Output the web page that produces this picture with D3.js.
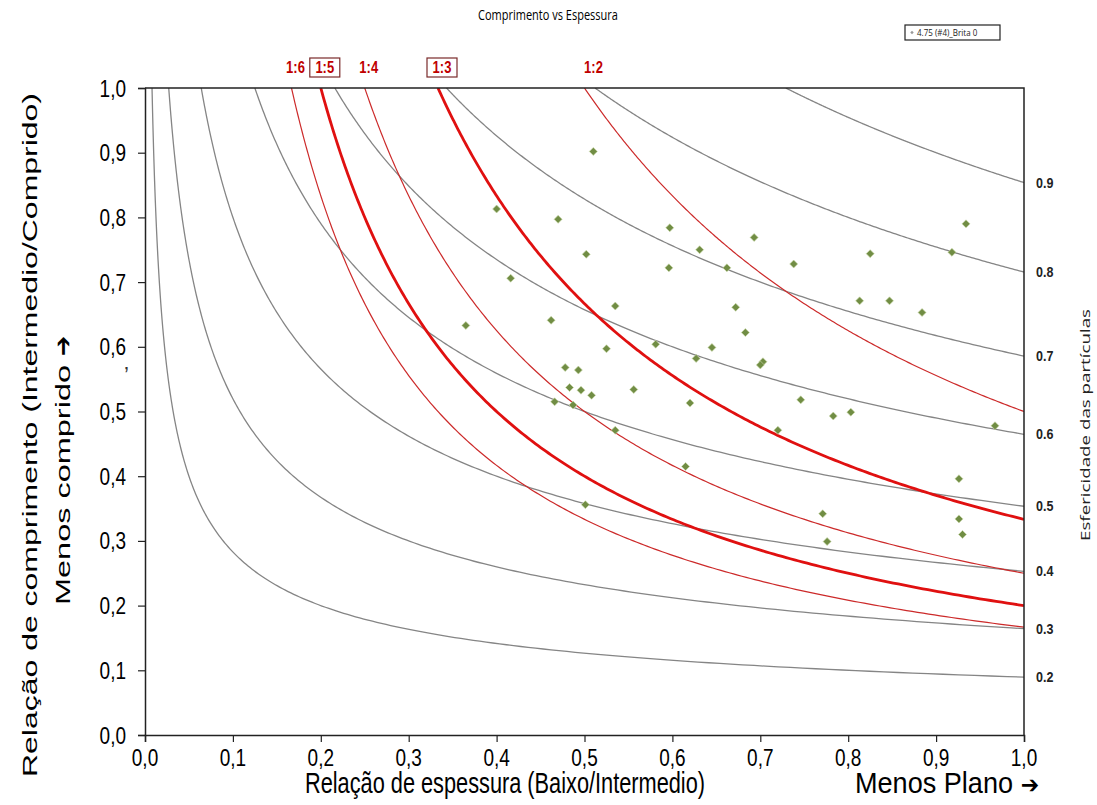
<!DOCTYPE html>
<html>
<head>
<meta charset="utf-8">
<script src="https://cdn.jsdelivr.net/npm/d3@7"></script>
<style>
  body { margin: 0; background: #fff; }
  svg { display: block; }
</style>
</head>
<body>
<svg id="chart" width="1097" height="805"></svg>
<script>
// Zingg diagram data
const xTicks = [0, 0.1, 0.2, 0.3, 0.4, 0.5, 0.6, 0.7, 0.8, 0.9, 1.0];
const yTicks = [0, 0.1, 0.2, 0.3, 0.4, 0.5, 0.6, 0.7, 0.8, 0.9, 1.0];

// sphericity contours (Krumbein), labels on the right
const sphericity = [0.2, 0.3, 0.4, 0.5, 0.6, 0.7, 0.8, 0.9];
const sphericityLabels = ["0.2", "0.3", "0.4", "0.5", "0.6", "0.7", "0.8", "0.9"];

// shape ratio lines (S/L)
const ratioValues = [1 / 2, 1 / 3, 1 / 4, 1 / 5, 1 / 6];
const ratioLabels = ["1:2", "1:3", "1:4", "1:5", "1:6"];

// measured particles, thickness ratio (S/I) and length ratio (I/L)
const sampleX = [0.510, 0.400, 0.470, 0.416, 0.502, 0.597, 0.596, 0.631, 0.693, 0.662,
  0.738, 0.535, 0.672, 0.365, 0.462, 0.683, 0.581, 0.525, 0.645, 0.627,
  0.478, 0.493, 0.703, 0.700, 0.483, 0.496, 0.508, 0.556, 0.466, 0.487,
  0.620, 0.535, 0.746, 0.783, 0.803, 0.720, 0.615, 0.501, 0.771, 0.776,
  0.926, 0.926, 0.930, 0.967, 0.813, 0.847, 0.825, 0.884, 0.918, 0.934];
const sampleY = [0.902, 0.813, 0.797, 0.706, 0.743, 0.784, 0.722, 0.750, 0.769, 0.722,
  0.728, 0.663, 0.661, 0.633, 0.641, 0.622, 0.604, 0.597, 0.599, 0.582,
  0.568, 0.564, 0.577, 0.572, 0.537, 0.533, 0.525, 0.534, 0.515, 0.510,
  0.513, 0.471, 0.518, 0.493, 0.499, 0.471, 0.415, 0.356, 0.342, 0.299,
  0.396, 0.334, 0.310, 0.478, 0.671, 0.671, 0.744, 0.653, 0.746, 0.790];

const seriesName = "4.75 (#4)_Brita 0";

const svg = d3.select("#chart");
const margin = { top: 88, right: 73, bottom: 70, left: 145 };
const width = 1097, height = 805;
const innerWidth = width - margin.left - margin.right;
const innerHeight = height - margin.top - margin.bottom;
const SY = 1.3; // the original picture is stretched vertically
const ARIAL = "'Liberation Sans', Arial, sans-serif";

// scales in page pixels, so every text can sit directly in the svg
const x = d3.scaleLinear().domain([0, 1]).range([margin.left, margin.left + innerWidth]);
const y = d3.scaleLinear().domain([0, 1]).range([margin.top + innerHeight, margin.top]);
const comma = (d) => d3.format(".1f")(d).replace(".", ",");

svg.append("defs").append("clipPath").attr("id", "plot")
  .append("rect").attr("x", margin.left).attr("y", margin.top)
  .attr("width", innerWidth).attr("height", innerHeight);

// text with taller glyphs: draw at size, then enlarge and squeeze back to that width
function label(px, py, str, size, opts = {}) {
  const t = svg.append("text")
    .attr("x", px).attr("y", py)
    .attr("text-anchor", opts.anchor || "start")
    .attr("font-family", opts.family || ARIAL)
    .attr("font-size", size)
    .attr("font-weight", opts.weight || "normal")
    .attr("fill", opts.fill || "#000")
    .text(str);
  const w = opts.length || t.node().getComputedTextLength();
  t.attr("font-size", size * (opts.sy || SY))
    .attr("textLength", w).attr("lengthAdjust", "spacingAndGlyphs");
  return t;
}

// curves, sampled on a log spaced x grid
const steps = d3.range(0, 1.0001, 0.004);
const line = d3.line().x((d) => x(d[0])).y((d) => y(d[1]));
const curves = svg.append("g").attr("clip-path", "url(#plot)");

sphericity.forEach((s) => {
  const x0 = Math.pow(s, 3);
  const pts = steps.map((t) => {
    const xv = x0 * Math.pow(1 / x0, t);
    return [xv, Math.sqrt(Math.pow(s, 3) / xv)];
  });
  curves.append("path").attr("d", line(pts))
    .attr("fill", "none").attr("stroke", "#858585").attr("stroke-width", 1.3);
});

const thickRatios = ["1:3", "1:5"];
ratioValues.forEach((r, i) => {
  const pts = steps.map((t) => {
    const xv = r * Math.pow(1 / r, t);
    return [xv, r / xv];
  });
  const thick = thickRatios.includes(ratioLabels[i]);
  curves.append("path").attr("d", line(pts))
    .attr("fill", "none")
    .attr("stroke", thick ? "#e01010" : "#cc2a2a")
    .attr("stroke-width", thick ? 2.8 : 1.2);
});

// plot frame (top and right)
svg.append("path")
  .attr("d", `M${margin.left},${margin.top}H${margin.left + innerWidth}V${margin.top + innerHeight}`)
  .attr("fill", "none").attr("stroke", "#222").attr("stroke-width", 1.5);

// axes: lines and ticks from d3, labels drawn below
const yAxis = svg.append("g").attr("transform", `translate(${margin.left},0)`)
  .call(d3.axisLeft(y).tickValues(yTicks).tickSize(7).tickFormat(""));
const xAxis = svg.append("g").attr("transform", `translate(0,${margin.top + innerHeight})`)
  .call(d3.axisBottom(x).tickValues(xTicks).tickSize(7).tickFormat(""));
[yAxis, xAxis].forEach((a) => {
  a.selectAll("text").remove();
  a.select(".domain").attr("stroke", "#222").attr("stroke-width", 1.5);
  a.selectAll(".tick line").attr("stroke", "#222").attr("stroke-width", 1.2);
});
yTicks.forEach((v) => label(margin.left - 19, y(v) + 8.5, comma(v), 19, { anchor: "end" }));
xTicks.forEach((v) => label(x(v), margin.top + innerHeight + 31, comma(v), 19, { anchor: "middle" }));

// sample points
svg.append("g").selectAll("path")
  .data(sampleX.map((v, i) => [v, sampleY[i]]))
  .join("path")
  .attr("d", d3.symbol(d3.symbolSquare, 32))
  .attr("transform", (d) => `translate(${x(d[0])},${y(d[1])}) rotate(45)`)
  .attr("fill", "#718d44")
  .attr("stroke", "#cbd9ab").attr("stroke-width", 0.6);

// sphericity labels on the right
sphericity.forEach((s, i) => {
  label(x(1) + 12, y(Math.pow(s, 1.5)) + 5, sphericityLabels[i], 12.5,
    { weight: "bold", fill: "#222", sy: 1.2 });
});

// ratio labels above the plot
ratioValues.forEach((r, i) => {
  const cx = x(r) + (i === 0 ? 9 : 4);
  label(cx, margin.top - 15, ratioLabels[i], 13,
    { anchor: "middle", weight: "bold", fill: "#c00000", sy: 1.2 });
  if (thickRatios.includes(ratioLabels[i])) {
    svg.append("rect")
      .attr("x", cx - 15).attr("y", margin.top - 30).attr("width", 30).attr("height", 19)
      .attr("fill", "none").attr("stroke", "#7a2a2a").attr("stroke-width", 1.2);
  }
});

// title
label(548, 20, "Comprimento vs Espessura", 11,
  { anchor: "middle", family: "'Open Sans', sans-serif", sy: 1.25 });

// legend
svg.append("rect").attr("x", 905).attr("y", 25).attr("width", 95).attr("height", 15)
  .attr("fill", "#fff").attr("stroke", "#222").attr("stroke-width", 1.2);
svg.append("path").attr("d", d3.symbol(d3.symbolSquare, 6))
  .attr("transform", "translate(912,32.5) rotate(45)").attr("fill", "#999");
label(917, 36, seriesName, 8, { family: "'Open Sans', sans-serif", sy: 1.2, fill: "#222" });

// axis titles
label(305, 793, "Relação de espessura (Baixo/Intermedio)", 20, { length: 400, sy: 1.45 });
label(855, 793, "Menos Plano", 20, { length: 158, sy: 1.45 });
label(1030, 793, "➔", 22, { anchor: "middle", family: "'DejaVu Sans', sans-serif", sy: 1.1, weight: "bold" });

svg.append("text")
  .attr("transform", "translate(37,435) rotate(-90)")
  .attr("text-anchor", "middle")
  .attr("font-family", ARIAL)
  .attr("font-size", 21)
  .attr("textLength", 684).attr("lengthAdjust", "spacingAndGlyphs")
  .text("Relação de comprimento (Intermedio/Comprido)");

svg.append("text")
  .attr("transform", "translate(70,485) rotate(-90)")
  .attr("text-anchor", "middle")
  .attr("font-family", ARIAL)
  .attr("font-size", 21)
  .attr("textLength", 240).attr("lengthAdjust", "spacingAndGlyphs")
  .text("Menos comprido");
svg.append("text")
  .attr("transform", "translate(71,346) rotate(-90)")
  .attr("text-anchor", "middle")
  .attr("font-family", "'DejaVu Sans', sans-serif")
  .attr("font-weight", "bold")
  .attr("font-size", 24)
  .text("➔");

svg.append("text")
  .attr("x", 124).attr("y", 382)
  .attr("font-family", ARIAL)
  .attr("font-size", 22).attr("fill", "#333")
  .text("’");

svg.append("text")
  .attr("transform", "translate(1090,425) rotate(-90)")
  .attr("text-anchor", "middle")
  .attr("font-family", "'Open Sans', sans-serif")
  .attr("font-size", 12).attr("fill", "#222")
  .attr("textLength", 232).attr("lengthAdjust", "spacingAndGlyphs")
  .text("Esfericidade das partículas");
</script>
</body>
</html>
